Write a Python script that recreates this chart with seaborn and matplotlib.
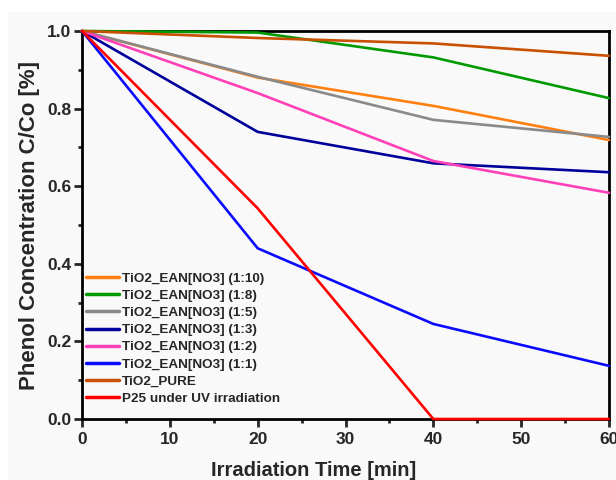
import matplotlib
matplotlib.use("Agg")
import matplotlib.pyplot as plt
from matplotlib.patches import Rectangle
from matplotlib.ticker import MultipleLocator, FormatStrFormatter
import seaborn as sns
import pandas as pd

# Irradiation time points [min]
time_min = [0, 20, 40, 60]

# Relative phenol concentration C/Co for each photocatalyst
ean_1_10 = [1.0, 0.880, 0.807, 0.719]
ean_1_8 = [1.0, 0.996, 0.932, 0.827]
ean_1_5 = [1.0, 0.882, 0.771, 0.727]
ean_1_3 = [1.0, 0.740, 0.659, 0.636]
ean_1_2 = [1.0, 0.840, 0.665, 0.583]
ean_1_1 = [1.0, 0.440, 0.245, 0.137]
tio2_pure = [1.0, 0.982, 0.968, 0.936]
p25_uv = [1.0, 0.543, 0.0, 0.0]

series_labels = [
    "TiO2_EAN[NO3] (1:10)",
    "TiO2_EAN[NO3] (1:8)",
    "TiO2_EAN[NO3] (1:5)",
    "TiO2_EAN[NO3] (1:3)",
    "TiO2_EAN[NO3] (1:2)",
    "TiO2_EAN[NO3] (1:1)",
    "TiO2_PURE",
    "P25 under UV irradiation",
]
series_values = [ean_1_10, ean_1_8, ean_1_5, ean_1_3, ean_1_2, ean_1_1, tio2_pure, p25_uv]
series_colors = ["#ff8010", "#009a00", "#8a8a8a", "#00009a",
                 "#ff40b8", "#0a0aff", "#c85000", "#ff0000"]

rows = []
for label, vals in zip(series_labels, series_values):
    for t, v in zip(time_min, vals):
        rows.append({"time": t, "conc": v, "sample": label})
df = pd.DataFrame(rows)

sns.set_style("ticks")
plt.rcParams["font.family"] = ["Liberation Sans", "DejaVu Sans"]
plt.rcParams["font.weight"] = "bold"

panel = "#f9f9f9"
fig = plt.figure(figsize=(6.16, 4.8), dpi=100, facecolor="white")
fig.patches.append(Rectangle((8 / 616, 0), 1, 1 - 12 / 480, transform=fig.transFigure,
                             facecolor=panel, edgecolor="none", zorder=-10))
ax = fig.add_axes([82 / 616, 1 - 419 / 480, (609 - 82) / 616, (419 - 31) / 480])
ax.set_facecolor(panel)

sns.lineplot(data=df, x="time", y="conc", hue="sample", hue_order=series_labels,
             palette=series_colors, linewidth=1.9, ax=ax, legend=True,
             clip_on=False, zorder=3)

ax.set_xlim(0, 60)
ax.set_ylim(0, 1.0)
ax.xaxis.set_major_locator(MultipleLocator(10))
ax.xaxis.set_minor_locator(MultipleLocator(5))
ax.yaxis.set_major_locator(MultipleLocator(0.2))
ax.yaxis.set_minor_locator(MultipleLocator(0.1))
ax.yaxis.set_major_formatter(FormatStrFormatter("%.1f"))

for side in ["left", "bottom", "top", "right"]:
    ax.spines[side].set_visible(True)
    ax.spines[side].set_linewidth(2.0)
    ax.spines[side].set_color("black")

ax.tick_params(which="major", direction="out", length=5.5, width=2,
               labelsize=12.5, top=False, right=False)
ax.tick_params(which="minor", direction="out", length=3, width=2,
               top=False, right=False)
ax.tick_params(axis="x", which="major", pad=4)
ax.tick_params(axis="y", which="major", pad=2)
for lab in ax.get_xticklabels() + ax.get_yticklabels():
    lab.set_fontweight("bold")

ax.set_xlabel("Irradiation Time [min]", fontsize=14.5, fontweight="bold")
ax.xaxis.set_label_coords(0.44, -0.107)
ax.xaxis.label.set_verticalalignment("top")
ax.set_ylabel("Phenol Concentration C/Co [%]", fontsize=16, fontweight="bold", labelpad=5)

leg = ax.legend(loc="lower left", bbox_to_anchor=(0.0, 0.026), frameon=False,
                prop={"weight": "bold", "size": 9.7}, handlelength=2.45,
                handletextpad=0.22, labelspacing=0.35, borderaxespad=0.0,
                borderpad=0.3)
for line in leg.get_lines():
    line.set_linewidth(2.5)

fig.savefig("out.png", dpi=100, facecolor=fig.get_facecolor())
